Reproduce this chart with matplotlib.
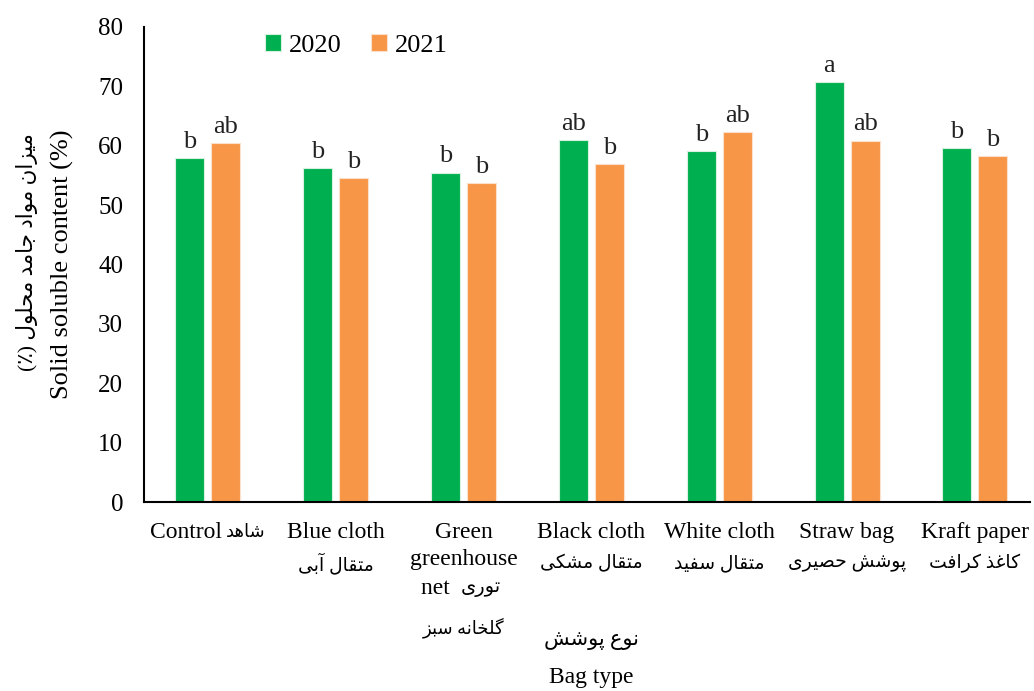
import matplotlib.pyplot as plt
import numpy as np

# Values
categories_en = ["Control", "Blue cloth", "Green\ngreenhouse\nnet", "Black cloth",
                 "White cloth", "Straw bag", "Kraft paper"]
categories_fa = ["شاهد", "متقال آبی", "توری", "متقال مشکی", "متقال سفید",
                 "پوشش حصیری", "کاغذ کرافت"]
ssc_2020 = [57.9, 56.2, 55.4, 60.9, 59.1, 70.7, 59.6]
ssc_2021 = [60.4, 54.5, 53.7, 56.9, 62.3, 60.8, 58.2]
letters_2020 = ["b", "b", "b", "ab", "b", "a", "b"]
letters_2021 = ["ab", "b", "b", "b", "ab", "ab", "b"]
yticks = [0, 10, 20, 30, 40, 50, 60, 70, 80]

# --- tiny Persian shaper (matplotlib has no RTL / joining support) ---
FORMS = {
    "ا": (0xFE8D, 0xFE8E), "آ": (0xFE81, 0xFE82),
    "د": (0xFEA9, 0xFEAA), "ذ": (0xFEAB, 0xFEAC),
    "ر": (0xFEAD, 0xFEAE), "ز": (0xFEAF, 0xFEB0), "و": (0xFEED, 0xFEEE),
    "ب": (0xFE8F, 0xFE90, 0xFE91, 0xFE92), "پ": (0xFB56, 0xFB57, 0xFB58, 0xFB59),
    "ت": (0xFE95, 0xFE96, 0xFE97, 0xFE98), "ج": (0xFE9D, 0xFE9E, 0xFE9F, 0xFEA0),
    "ح": (0xFEA1, 0xFEA2, 0xFEA3, 0xFEA4), "خ": (0xFEA5, 0xFEA6, 0xFEA7, 0xFEA8),
    "س": (0xFEB1, 0xFEB2, 0xFEB3, 0xFEB4), "ش": (0xFEB5, 0xFEB6, 0xFEB7, 0xFEB8),
    "ص": (0xFEB9, 0xFEBA, 0xFEBB, 0xFEBC), "ع": (0xFEC9, 0xFECA, 0xFECB, 0xFECC),
    "غ": (0xFECD, 0xFECE, 0xFECF, 0xFED0), "ف": (0xFED1, 0xFED2, 0xFED3, 0xFED4),
    "ق": (0xFED5, 0xFED6, 0xFED7, 0xFED8), "ک": (0xFB8E, 0xFB8F, 0xFB90, 0xFB91),
    "گ": (0xFB92, 0xFB93, 0xFB94, 0xFB95), "ل": (0xFEDD, 0xFEDE, 0xFEDF, 0xFEE0),
    "م": (0xFEE1, 0xFEE2, 0xFEE3, 0xFEE4), "ن": (0xFEE5, 0xFEE6, 0xFEE7, 0xFEE8),
    "ه": (0xFEE9, 0xFEEA, 0xFEEB, 0xFEEC), "ی": (0xFBFC, 0xFBFD, 0xFBFE, 0xFBFF),
}


def fa(text):
    out = []
    for i, c in enumerate(text):
        f = FORMS.get(c)
        if f is None:
            out.append(c)
            continue
        prev = text[i - 1] if i > 0 else ""
        nxt = text[i + 1] if i + 1 < len(text) else ""
        pj = prev in FORMS and len(FORMS[prev]) == 4
        nj = nxt in FORMS and len(f) == 4
        if pj and nj:
            out.append(chr(f[3]))
        elif pj:
            out.append(chr(f[1]))
        elif nj:
            out.append(chr(f[2]))
        else:
            out.append(chr(f[0]))
    s = "".join(out)[::-1]
    return s.translate(str.maketrans("()", ")("))


FAM = ["Liberation Serif", "DejaVu Sans"]
plt.rcParams["font.family"] = FAM

fig = plt.figure(figsize=(10.34, 6.91), dpi=100)
ax = fig.add_axes([0.1393, 0.2735, 0.8567, 0.6875])

x = np.arange(len(categories_en))
off, w = 0.141, 0.227
b1 = ax.bar(x - off, ssc_2020, w, color="#00B050", edgecolor="#d8f0df", linewidth=0.8, label="2020")
b2 = ax.bar(x + off, ssc_2021, w, color="#F79646", edgecolor="#fbe0cc", linewidth=0.8, label="2021")

for bars, labs in ((b1, letters_2020), (b2, letters_2021)):
    for r, t in zip(bars, labs):
        ax.annotate(t, (r.get_x() + r.get_width() / 2, r.get_height()),
                    xytext=(0, 4), textcoords="offset points",
                    ha="center", va="bottom", fontsize=19, color="#222222")

ax.set_xlim(-0.5, 6.43)
ax.set_ylim(0, 80)
ax.set_yticks(yticks)
ax.tick_params(axis="y", length=0, labelsize=18, pad=15)
ax.set_xticks([])
for s in ("top", "right"):
    ax.spines[s].set_visible(False)
ax.spines["left"].set_linewidth(1.5)
ax.spines["bottom"].set_linewidth(1.5)

# x category labels
tr = ax.get_xaxis_transform()
for i, (en, p) in enumerate(zip(categories_en, categories_fa)):
    if i == 0:
        ax.text(0.11, -0.065, en, transform=tr, ha="right", va="center", fontsize=17)
        ax.text(0.142, -0.065, fa(p), transform=tr, ha="left", va="center", fontsize=13)
    elif i == 2:
        ax.text(i, -0.065, "Green", transform=tr, ha="center", va="center", fontsize=17)
        ax.text(i, -0.12, "greenhouse", transform=tr, ha="center", va="center", fontsize=17)
        ax.text(i - 0.02, -0.183, "net  ", transform=tr, ha="right", va="center", fontsize=17)
        ax.text(i - 0.02, -0.183, fa(p), transform=tr, ha="left", va="center", fontsize=14)
        ax.text(i, -0.265, fa("گلخانه سبز"), transform=tr, ha="center", va="center", fontsize=13)
    else:
        ax.text(i, -0.065, en, transform=tr, ha="center", va="center", fontsize=17)
        ax.text(i, -0.13, fa(p), transform=tr, ha="center", va="center", fontsize=13.5)

# axis titles
fig.text(0.572, 1 - 640 / 691, fa("نوع پوشش"), ha="center", va="center", fontsize=15)
fig.text(0.572, 1 - 678 / 691, "Bag type", ha="center", va="center", fontsize=17)
fig.text(0.06, 1 - 264 / 691, "Solid soluble content (%)", rotation=90, ha="center", va="center", fontsize=19)
fig.text(0.026, 1 - 252 / 691, fa("میزان مواد جامد محلول (٪)"), rotation=90, ha="center", va="center", fontsize=15.5)

ax.legend(loc="upper left", bbox_to_anchor=(0.11, 1.035), ncol=2, frameon=False,
          fontsize=19, handlelength=0.6, handleheight=0.6, handletextpad=0.3,
          columnspacing=1.1)

fig.savefig("out.png", dpi=100)
